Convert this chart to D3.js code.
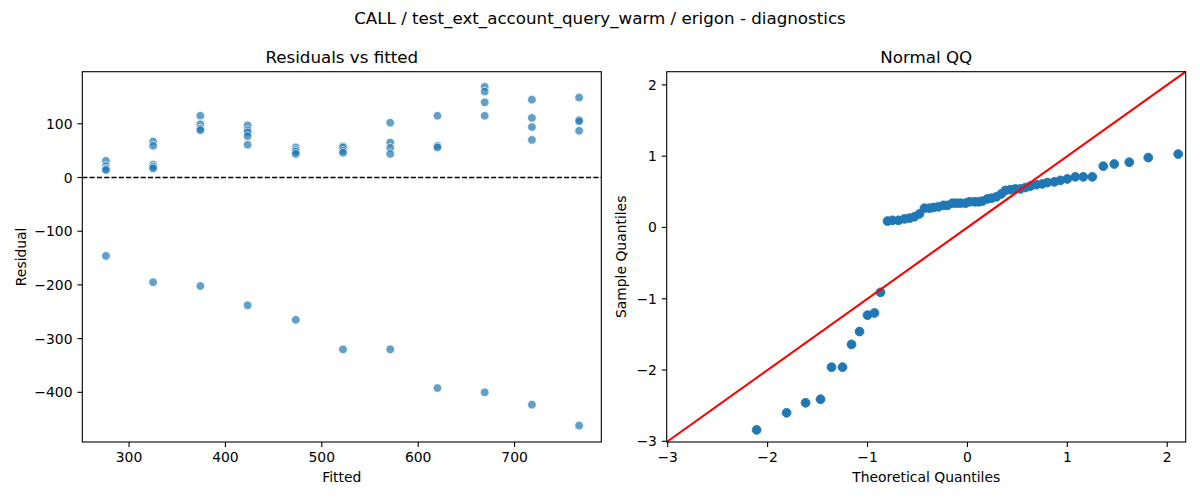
<!DOCTYPE html>
<html>
<head>
<meta charset="utf-8">
<script src="https://cdn.jsdelivr.net/npm/d3@7"></script>
<style>
  body { margin: 0; background: #fff; }
  svg { display: block; font-family: "DejaVu Sans", sans-serif; }
</style>
</head>
<body>
<div id="chart"></div>
<script>
// fitted values (one per group) and the residuals seen at each of them
const fittedLevels = [276, 325, 374, 423, 473, 522, 571, 620, 669, 718, 767];
const residualGroups = [
  [31, 21, 16, 14, -146],
  [67, 59, 24, 20, 17, -195],
  [115, 99, 91, 88, -202],
  [97, 88, 84, 77, 61, -238],
  [56, 51, 48, 44, -265],
  [58, 56, 50, 46, -320],
  [102, 65, 55, 44, -320],
  [115, 59, 56, -392],
  [169, 160, 140, 115, -400],
  [145, 111, 94, 70, -423],
  [149, 107, 105, 87, -462]
];

// normal QQ: theoretical vs sample quantiles
const theoretical = [
  -2.11, -1.81, -1.62, -1.47, -1.36, -1.25, -1.16, -1.08, -1.00, -0.93, -0.87,
  -0.80, -0.75, -0.69, -0.63, -0.58, -0.53, -0.48, -0.43, -0.38, -0.34, -0.29,
  -0.24, -0.20, -0.15, -0.11, -0.07, -0.02, 0.02, 0.07, 0.11, 0.15, 0.20, 0.24,
  0.29, 0.34, 0.38, 0.43, 0.48, 0.53, 0.58, 0.63, 0.69, 0.75, 0.80, 0.87, 0.93,
  1.00, 1.08, 1.16, 1.25, 1.36, 1.47, 1.62, 1.81, 2.11
];
const sample = [
  -2.84, -2.60, -2.46, -2.41, -1.96, -1.96, -1.64, -1.46, -1.23, -1.20, -0.91,
  0.09, 0.10, 0.10, 0.12, 0.13, 0.15, 0.19, 0.27, 0.27, 0.28, 0.29, 0.31, 0.31,
  0.34, 0.34, 0.34, 0.34, 0.36, 0.36, 0.36, 0.37, 0.40, 0.41, 0.43, 0.47, 0.52,
  0.53, 0.54, 0.54, 0.56, 0.58, 0.60, 0.61, 0.63, 0.64, 0.66, 0.68, 0.71, 0.71,
  0.71, 0.86, 0.89, 0.915, 0.98, 1.03
];

const xTicksFitted = [300, 400, 500, 600, 700];
const yTicksResid = [100, 0, -100, -200, -300, -400];
const qqTicks = [-3, -2, -1, 0, 1, 2];

const W = 1200, H = 500;
const svg = d3.select("#chart").append("svg")
  .attr("width", W).attr("height", H);

const fmt = d => (d < 0 ? "\u2212" + Math.abs(d) : String(d));

function frame(g, x, y, xt, yt) {
  const [x0, x1] = x.range(), [y1, y0] = y.range();
  const tl = 4.9, fs = 13.9;
  xt.forEach(t => {
    g.append("line").attr("x1", x(t)).attr("x2", x(t))
      .attr("y1", y1).attr("y2", y1 + tl).attr("stroke", "#000").attr("stroke-width", 1.1);
    g.append("text").attr("x", x(t)).attr("y", y1 + tl + 4.9 + fs * 0.76)
      .attr("text-anchor", "middle").attr("font-size", fs).text(fmt(t));
  });
  yt.forEach(t => {
    g.append("line").attr("x1", x0 - tl).attr("x2", x0)
      .attr("y1", y(t)).attr("y2", y(t)).attr("stroke", "#000").attr("stroke-width", 1.1);
    g.append("text").attr("x", x0 - tl - 4.9).attr("y", y(t))
      .attr("dy", "0.36em").attr("text-anchor", "end").attr("font-size", fs).text(fmt(t));
  });
  g.append("rect").attr("x", x0).attr("y", y0)
    .attr("width", x1 - x0).attr("height", y1 - y0)
    .attr("fill", "none").attr("stroke", "#000").attr("stroke-width", 1.1);
}

// ---- left: residuals vs fitted
const L = { left: 82.3, right: 601.3, top: 71.7, bottom: 442 };
const xF = d3.scaleLinear().domain([251.5, 790]).range([L.left, L.right]);
const yR = d3.scaleLinear().domain([-492.5, 197]).range([L.bottom, L.top]);

const points = fittedLevels.flatMap((f, i) => residualGroups[i].map(r => ({ f, r })));
const gl = svg.append("g");

gl.append("g").selectAll("circle").data(points).enter().append("circle")
  .attr("cx", d => xF(d.f)).attr("cy", d => yR(d.r)).attr("r", 4.3)
  .attr("fill", "#1f77b4").attr("fill-opacity", 0.7)
  .attr("stroke", "#fff").attr("stroke-width", 0.7);

gl.append("line")
  .attr("x1", L.left).attr("x2", L.right).attr("y1", yR(0)).attr("y2", yR(0))
  .attr("stroke", "#000").attr("stroke-width", 1.4).attr("stroke-dasharray", "5.1,2.2");

frame(gl, xF, yR, xTicksFitted, yTicksResid);

gl.append("text").attr("x", (L.left + L.right) / 2).attr("y", 63)
  .attr("text-anchor", "middle").attr("font-size", 16.7).text("Residuals vs fitted");
gl.append("text").attr("x", (L.left + L.right) / 2).attr("y", 481.5)
  .attr("text-anchor", "middle").attr("font-size", 13.9).text("Fitted");
gl.append("text").attr("transform", `translate(26,${(L.top + L.bottom) / 2}) rotate(-90)`)
  .attr("text-anchor", "middle").attr("font-size", 13.9).text("Residual");

// ---- right: normal QQ
const R = { left: 666.7, right: 1185.7, top: 71.7, bottom: 442 };
const qqDomain = [-3.01, 2.185];
const xQ = d3.scaleLinear().domain(qqDomain).range([R.left, R.right]);
const yQ = d3.scaleLinear().domain(qqDomain).range([R.bottom, R.top]);
const gr = svg.append("g");

gr.append("g").selectAll("circle").data(theoretical).enter().append("circle")
  .attr("cx", d => xQ(d)).attr("cy", (d, i) => yQ(sample[i])).attr("r", 4.4)
  .attr("fill", "#1f77b4").attr("stroke", "#1f77b4").attr("stroke-width", 0.9);

gr.append("line")
  .attr("x1", xQ(qqDomain[0])).attr("y1", yQ(qqDomain[0]))
  .attr("x2", xQ(qqDomain[1])).attr("y2", yQ(qqDomain[1]))
  .attr("stroke", "#ff0000").attr("stroke-width", 2.1);

frame(gr, xQ, yQ, qqTicks, qqTicks);

gr.append("text").attr("x", (R.left + R.right) / 2).attr("y", 63)
  .attr("text-anchor", "middle").attr("font-size", 16.7).text("Normal QQ");
gr.append("text").attr("x", (R.left + R.right) / 2).attr("y", 481.5)
  .attr("text-anchor", "middle").attr("font-size", 13.9).text("Theoretical Quantiles");
gr.append("text").attr("transform", `translate(626,${(R.top + R.bottom) / 2}) rotate(-90)`)
  .attr("text-anchor", "middle").attr("font-size", 13.9).text("Sample Quantiles");

// suptitle
svg.append("text").attr("x", W / 2).attr("y", 24)
  .attr("text-anchor", "middle").attr("font-size", 16.7)
  .text("CALL / test_ext_account_query_warm / erigon - diagnostics");
</script>
</body>
</html>
